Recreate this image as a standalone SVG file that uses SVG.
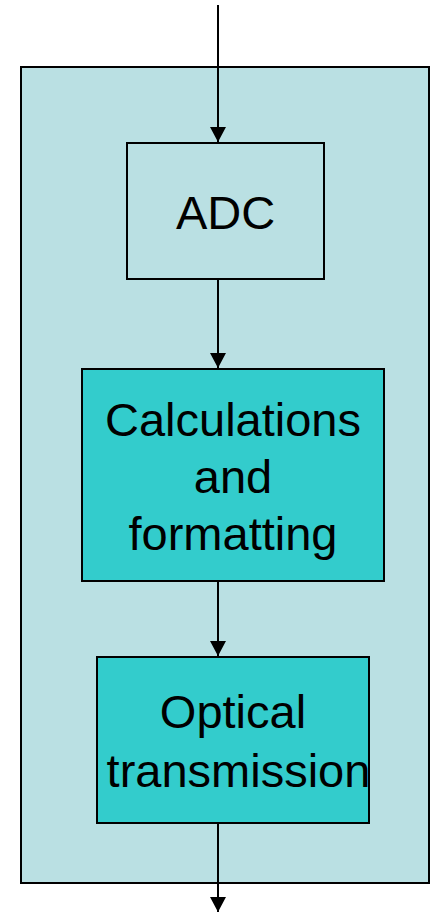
<svg xmlns="http://www.w3.org/2000/svg" width="434" height="912" viewBox="0 0 434 912">
  <style>
    .box { stroke: #000; stroke-width: 2; }
    .label { font-family: "Liberation Sans", Arial, sans-serif; font-size: 47px; fill: #000; text-anchor: middle; }
    .wire { stroke: #000; stroke-width: 2; fill: none; marker-end: url(#arrow); }
  </style>
  <defs>
    <marker id="arrow" markerUnits="userSpaceOnUse" markerWidth="16" markerHeight="16" viewBox="0 0 16 16" refX="15" refY="8" orient="auto">
      <path d="M0,0 L15,8 L0,16 Z" fill="#000"/>
    </marker>
  </defs>

  <rect width="434" height="912" fill="#fff"/>

  <!-- enclosing module -->
  <g id="module">
    <rect class="box" x="21" y="67" width="408" height="816" fill="#bae0e3"/>
  </g>

  <g id="adc">
    <rect class="box" x="127" y="143" width="197" height="136" fill="#bae0e3"/>
    <text class="label" x="225.5" y="229">ADC</text>
  </g>

  <g id="calc">
    <rect class="box" x="82" y="369" width="302" height="212" fill="#33cccc"/>
    <text class="label" x="233" y="436">Calculations</text>
    <text class="label" x="233" y="493">and</text>
    <text class="label" x="233" y="550">formatting</text>
  </g>

  <g id="optical">
    <rect class="box" x="97" y="657" width="272" height="166" fill="#33cccc"/>
    <text class="label" x="233" y="728">Optical</text>
    <text class="label" x="238.5" y="787">transmission</text>
  </g>

  <g id="connectors">
    <line class="wire" x1="218" y1="5" x2="218" y2="142"/>
    <line class="wire" x1="218" y1="280" x2="218" y2="368"/>
    <line class="wire" x1="218" y1="582" x2="218" y2="656"/>
    <line class="wire" x1="218" y1="824" x2="218" y2="912"/>
  </g>
</svg>
